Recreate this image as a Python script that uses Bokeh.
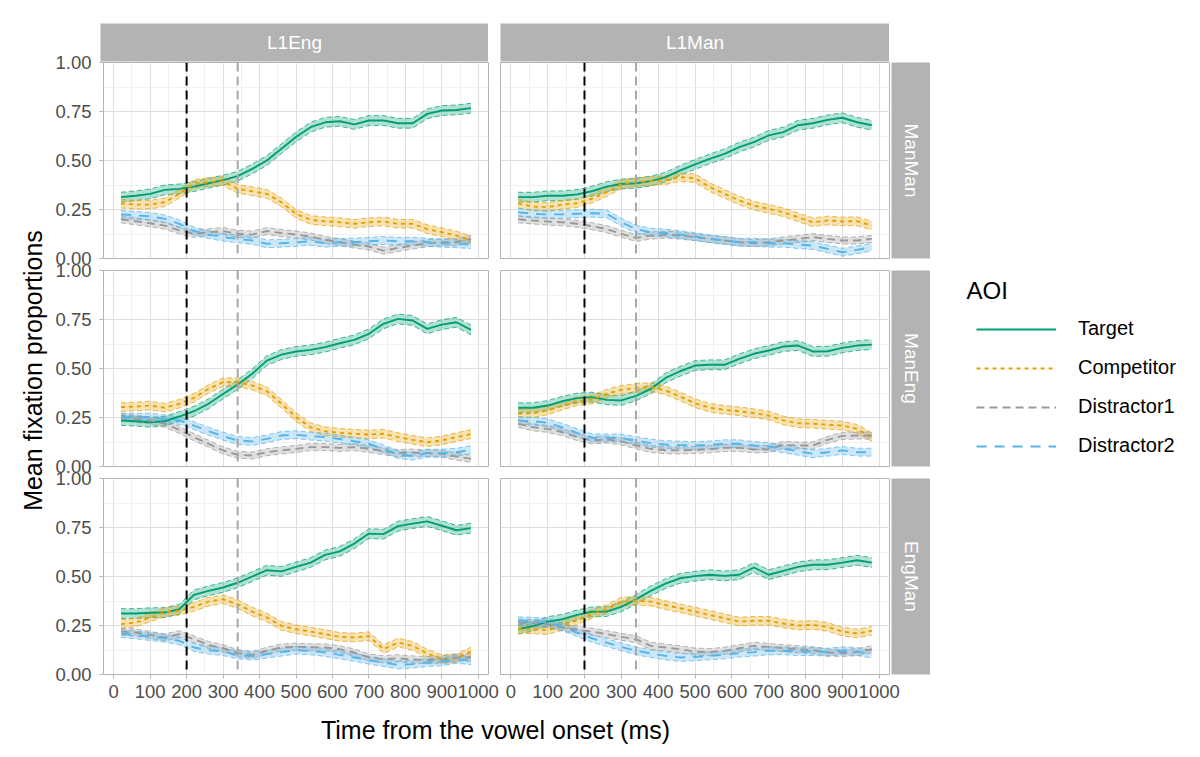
import math

from bokeh.core.properties import value
from bokeh.embed import file_html
from bokeh.layouts import column, row
from bokeh.models import FixedTicker, Legend, LegendItem, NumeralTickFormatter, Range1d, Spacer, Span
from bokeh.plotting import figure
from bokeh.resources import INLINE

# ---------------------------------------------------------------- data
time_ms = [20, 60, 100, 140, 180, 220, 260, 300, 340, 380, 420, 460, 500,
           540, 580, 620, 660, 700, 740, 780, 820, 860, 900, 940, 980]

eng_manman_target = [0.313, 0.32, 0.33, 0.35, 0.355, 0.367, 0.384, 0.40, 0.42, 0.457, 0.50, 0.56, 0.62,
                     0.67, 0.695, 0.70, 0.684, 0.704, 0.704, 0.69, 0.69, 0.738, 0.755, 0.758, 0.767]
eng_manman_comp = [0.28, 0.275, 0.275, 0.287, 0.33, 0.38, 0.39, 0.395, 0.355, 0.343, 0.33, 0.287, 0.228,
                   0.197, 0.19, 0.185, 0.177, 0.185, 0.189, 0.177, 0.177, 0.15, 0.134, 0.117, 0.092]
eng_manman_d1 = [0.20, 0.19, 0.18, 0.168, 0.143, 0.126, 0.134, 0.14, 0.126, 0.122, 0.14, 0.13, 0.122,
                 0.112, 0.095, 0.083, 0.071, 0.061, 0.04, 0.054, 0.066, 0.078, 0.083, 0.083, 0.10]
eng_manman_d2 = [0.225, 0.22, 0.215, 0.202, 0.177, 0.14, 0.122, 0.109, 0.10, 0.092, 0.075, 0.078, 0.082,
                 0.088, 0.078, 0.083, 0.083, 0.088, 0.092, 0.088, 0.088, 0.083, 0.078, 0.075, 0.071]

man_manman_target = [0.313, 0.313, 0.32, 0.32, 0.327, 0.343, 0.367, 0.38, 0.384, 0.395, 0.415, 0.45, 0.48,
                     0.508, 0.534, 0.568, 0.594, 0.628, 0.645, 0.68, 0.69, 0.707, 0.718, 0.695, 0.68]
man_manman_comp = [0.28, 0.265, 0.262, 0.275, 0.282, 0.305, 0.338, 0.378, 0.39, 0.395, 0.40, 0.415, 0.41,
                   0.364, 0.33, 0.296, 0.27, 0.253, 0.236, 0.21, 0.185, 0.194, 0.189, 0.19, 0.168]
man_manman_d1 = [0.20, 0.194, 0.189, 0.185, 0.177, 0.165, 0.15, 0.126, 0.105, 0.117, 0.122, 0.117, 0.109,
                 0.10, 0.092, 0.083, 0.078, 0.083, 0.092, 0.10, 0.109, 0.10, 0.092, 0.092, 0.10]
man_manman_d2 = [0.236, 0.228, 0.225, 0.225, 0.228, 0.231, 0.228, 0.185, 0.15, 0.134, 0.13, 0.122, 0.112,
                 0.10, 0.092, 0.083, 0.083, 0.078, 0.078, 0.071, 0.066, 0.049, 0.032, 0.044, 0.058]

eng_maneng_target = [0.235, 0.231, 0.226, 0.231, 0.255, 0.282, 0.32, 0.37, 0.418, 0.473, 0.54, 0.571, 0.587,
                     0.595, 0.609, 0.629, 0.646, 0.677, 0.728, 0.753, 0.745, 0.702, 0.724, 0.736, 0.697]
eng_maneng_comp = [0.303, 0.306, 0.311, 0.30, 0.32, 0.35, 0.396, 0.43, 0.43, 0.413, 0.384, 0.32, 0.252,
                   0.20, 0.18, 0.172, 0.167, 0.163, 0.167, 0.15, 0.136, 0.124, 0.133, 0.15, 0.165]
eng_maneng_d1 = [0.252, 0.243, 0.235, 0.218, 0.187, 0.15, 0.116, 0.082, 0.06, 0.056, 0.073, 0.082, 0.09,
                 0.099, 0.099, 0.095, 0.099, 0.09, 0.078, 0.068, 0.071, 0.068, 0.065, 0.051, 0.039]
eng_maneng_d2 = [0.252, 0.252, 0.252, 0.243, 0.235, 0.209, 0.18, 0.155, 0.133, 0.128, 0.141, 0.158, 0.162,
                 0.155, 0.15, 0.14, 0.129, 0.116, 0.09, 0.061, 0.053, 0.068, 0.068, 0.073, 0.085]

man_maneng_target = [0.30, 0.30, 0.311, 0.333, 0.349, 0.354, 0.34, 0.337, 0.36, 0.396, 0.452, 0.486, 0.515,
                     0.519, 0.519, 0.549, 0.575, 0.592, 0.612, 0.617, 0.587, 0.588, 0.605, 0.617, 0.622]
man_maneng_comp = [0.269, 0.272, 0.286, 0.311, 0.333, 0.342, 0.371, 0.391, 0.401, 0.405, 0.388, 0.357, 0.323,
                   0.30, 0.289, 0.282, 0.272, 0.26, 0.235, 0.221, 0.218, 0.213, 0.209, 0.192, 0.15]
man_maneng_d1 = [0.218, 0.20, 0.192, 0.175, 0.15, 0.133, 0.138, 0.128, 0.107, 0.09, 0.083, 0.082, 0.085,
                 0.088, 0.095, 0.095, 0.087, 0.09, 0.11, 0.107, 0.107, 0.136, 0.156, 0.158, 0.158]
man_maneng_d2 = [0.235, 0.231, 0.223, 0.20, 0.172, 0.146, 0.146, 0.145, 0.133, 0.119, 0.112, 0.109, 0.107,
                 0.11, 0.116, 0.116, 0.107, 0.102, 0.09, 0.078, 0.065, 0.073, 0.082, 0.073, 0.073]

eng_engman_target = [0.311, 0.311, 0.315, 0.316, 0.333, 0.406, 0.427, 0.444, 0.468, 0.50, 0.532, 0.526, 0.549,
                     0.571, 0.61, 0.628, 0.668, 0.719, 0.716, 0.757, 0.77, 0.781, 0.759, 0.736, 0.747]
eng_engman_comp = [0.257, 0.265, 0.291, 0.318, 0.325, 0.345, 0.372, 0.384, 0.359, 0.321, 0.291, 0.248, 0.231,
                   0.219, 0.206, 0.192, 0.189, 0.196, 0.129, 0.163, 0.146, 0.107, 0.078, 0.083, 0.117]
eng_engman_d1 = [0.219, 0.214, 0.202, 0.189, 0.206, 0.18, 0.15, 0.134, 0.109, 0.10, 0.121, 0.138, 0.141,
                 0.139, 0.138, 0.129, 0.112, 0.087, 0.078, 0.083, 0.077, 0.073, 0.077, 0.087, 0.087]
eng_engman_d2 = [0.209, 0.202, 0.194, 0.185, 0.172, 0.138, 0.124, 0.117, 0.10, 0.094, 0.104, 0.114, 0.124,
                 0.121, 0.112, 0.10, 0.087, 0.073, 0.061, 0.049, 0.053, 0.061, 0.065, 0.078, 0.07]

man_engman_target = [0.231, 0.247, 0.27, 0.282, 0.304, 0.32, 0.321, 0.345, 0.384, 0.427, 0.464, 0.491, 0.502,
                     0.509, 0.503, 0.509, 0.546, 0.509, 0.529, 0.549, 0.56, 0.56, 0.571, 0.583, 0.571]
man_engman_comp = [0.231, 0.231, 0.226, 0.248, 0.277, 0.308, 0.333, 0.372, 0.376, 0.372, 0.354, 0.338, 0.321,
                   0.304, 0.287, 0.27, 0.274, 0.274, 0.26, 0.25, 0.253, 0.243, 0.219, 0.209, 0.223]
man_engman_d1 = [0.265, 0.262, 0.257, 0.24, 0.228, 0.219, 0.206, 0.192, 0.18, 0.146, 0.138, 0.129, 0.117,
                 0.114, 0.121, 0.134, 0.146, 0.141, 0.134, 0.129, 0.124, 0.112, 0.11, 0.114, 0.129]
man_engman_d2 = [0.274, 0.272, 0.265, 0.243, 0.214, 0.185, 0.163, 0.141, 0.121, 0.107, 0.095, 0.087, 0.09,
                 0.095, 0.10, 0.109, 0.114, 0.121, 0.121, 0.117, 0.117, 0.114, 0.121, 0.117, 0.104]

# standard-error half widths of the ribbons, one per AOI
se_halfwidth = [0.025, 0.022, 0.018, 0.02]

aoi_names = ["Target", "Competitor", "Distractor1", "Distractor2"]
l1_groups = ["L1Eng", "L1Man"]
conditions = ["ManMan", "ManEng", "EngMan"]

# analysis window markers (ms)
window_start = 200
window_end = 340

x_ticks = [0, 100, 200, 300, 400, 500, 600, 700, 800, 900, 1000]
x_minor = [50, 150, 250, 350, 450, 550, 650, 750, 850, 950]
y_ticks = [0.0, 0.25, 0.5, 0.75, 1.0]
y_minor = [0.125, 0.375, 0.625, 0.875]

curves = {
    ("L1Eng", "ManMan"): [eng_manman_target, eng_manman_comp, eng_manman_d1, eng_manman_d2],
    ("L1Man", "ManMan"): [man_manman_target, man_manman_comp, man_manman_d1, man_manman_d2],
    ("L1Eng", "ManEng"): [eng_maneng_target, eng_maneng_comp, eng_maneng_d1, eng_maneng_d2],
    ("L1Man", "ManEng"): [man_maneng_target, man_maneng_comp, man_maneng_d1, man_maneng_d2],
    ("L1Eng", "EngMan"): [eng_engman_target, eng_engman_comp, eng_engman_d1, eng_engman_d2],
    ("L1Man", "EngMan"): [man_engman_target, man_engman_comp, man_engman_d1, man_engman_d2],
}

# ---------------------------------------------------------------- style
FONT = "Liberation Sans"
aoi_colors = ["#009E73", "#E69F00", "#999999", "#56B4E9"]
aoi_dashes = ["solid", "4 4", "8 5", "10 8"]
STRIP = "#B3B3B3"
BORDER = "#B3B3B3"
GRID_MAJOR = "#DEDEDE"
GRID_MINOR = "#EEEEEE"
TICK_TEXT = "#4D4D4D"

FRAME_H = 196
GAP = 12


def blank(width, height, **kw):
    f = figure(width=width, height=height, output_backend="svg", toolbar_location=None,
               x_axis_location=None, y_axis_location=None,
               border_fill_alpha=0, **kw)
    f.xgrid.visible = False
    f.ygrid.visible = False
    return f


def make_canvas(width, height):
    return blank(width, height, x_range=Range1d(0, width), y_range=Range1d(0, height),
                 min_border_left=0, min_border_right=0, min_border_top=0, min_border_bottom=0,
                 background_fill_alpha=0, outline_line_color=None)


def make_strip(label, width, height, left, top, bottom, angle):
    s = blank(width, height, x_range=Range1d(0, 1), y_range=Range1d(0, 1),
              min_border_left=left, min_border_right=0, min_border_top=top, min_border_bottom=bottom,
              background_fill_color=STRIP, outline_line_color=None)
    s.text(x=[0.5], y=[0.5], text=[label], angle=angle, text_color="white",
           text_font=value(FONT), text_font_size="19px",
           text_align="center", text_baseline="middle")
    return s


def make_panel(l1, cond, col_idx, row_idx):
    last_row = row_idx == len(conditions) - 1
    left = 48 if col_idx == 0 else GAP
    bottom = 34 if last_row else GAP
    frame_w = 388 if col_idx == 0 else 389
    p = figure(width=left + frame_w + GAP, height=GAP + FRAME_H + bottom,
               x_range=Range1d(-28, 1028), y_range=Range1d(0, 1),
               x_axis_location="below" if last_row else None,
               y_axis_location="left" if col_idx == 0 else None,
               output_backend="svg", toolbar_location=None,
               min_border_left=left, min_border_right=GAP,
               min_border_top=GAP, min_border_bottom=bottom,
               background_fill_color="white", border_fill_alpha=0,
               outline_line_color=BORDER, outline_line_width=1)

    p.xgrid.ticker = FixedTicker(ticks=x_ticks, minor_ticks=x_minor)
    p.ygrid.ticker = FixedTicker(ticks=y_ticks, minor_ticks=y_minor)
    p.grid.grid_line_color = GRID_MAJOR
    p.grid.grid_line_width = 1
    p.grid.minor_grid_line_color = GRID_MINOR
    p.grid.minor_grid_line_width = 0.8

    for axes, ticks, standoff in ((p.xaxis, x_ticks, 6), (p.yaxis, y_ticks, 8)):
        for ax in axes:
            ax.ticker = FixedTicker(ticks=ticks)
            ax.axis_line_color = None
            ax.major_tick_line_color = BORDER
            ax.major_tick_out = 4
            ax.major_tick_in = 0
            ax.minor_tick_line_color = None
            ax.major_label_text_font = FONT
            ax.major_label_text_font_size = "18.5px"
            ax.major_label_text_color = TICK_TEXT
            ax.major_label_standoff = standoff
    for ax in p.yaxis:
        ax.formatter = NumeralTickFormatter(format="0.00")

    series = curves[(l1, cond)]
    for ys, color, se in zip(series, aoi_colors, se_halfwidth):
        lo = [v - se for v in ys]
        hi = [v + se for v in ys]
        p.varea(x=time_ms, y1=lo, y2=hi, fill_color=color, fill_alpha=0.3)
        p.line(time_ms, lo, line_color=color, line_width=0.8, line_dash="5 3", line_alpha=0.9)
        p.line(time_ms, hi, line_color=color, line_width=0.8, line_dash="5 3", line_alpha=0.9)
    for ys, color, dash in zip(series, aoi_colors, aoi_dashes):
        p.line(time_ms, ys, line_color=color, line_width=1.9, line_dash=dash)

    p.add_layout(Span(location=window_start, dimension="height", line_color="black",
                      line_width=2, line_dash="9 5"))
    p.add_layout(Span(location=window_end, dimension="height", line_color="#A6A6A6",
                      line_width=2, line_dash="9 5"))
    if col_idx == 1:
        p.margin = (0, 0, 0, -GAP)
    return p


# ---------------------------------------------------------------- facet grid
strip_row = row(
    make_strip(l1_groups[0], 48 + 388, 62, 48, 23, 1, 0),
    make_strip(l1_groups[1], GAP + 389, 62, GAP, 23, 1, 0),
    Spacer(width=41, height=62),
)

panel_rows = []
for r, cond in enumerate(conditions):
    pa = make_panel(l1_groups[0], cond, 0, r)
    pb = make_panel(l1_groups[1], cond, 1, r)
    h = pa.height
    side = make_strip(cond, 41, h, 2, GAP, h - GAP - FRAME_H, -math.pi / 2)
    side.margin = (0, 0, 0, -GAP)
    panel_rows.append(row(pa, pb, side, margin=(-GAP, 0, 0, 0)))

x_title = make_canvas(878, 49)
x_title.text(x=[443], y=[28], text=["Time from the vowel onset (ms)"], text_font=value(FONT),
             text_font_size="25px", text_color="black", text_align="center",
             text_baseline="alphabetic")

grid_col = column(strip_row, *panel_rows, x_title)

y_title = make_canvas(52, 757)
y_title.text(x=[32], y=[387], text=["Mean fixation proportions"], angle=math.pi / 2,
             text_font=value(FONT), text_font_size="25px", text_color="black",
             text_align="center", text_baseline="middle")

# ---------------------------------------------------------------- legend
legend_panel = make_canvas(270, 757)
legend_panel.text(x=[36], y=[467], text=["AOI"], text_font=value(FONT), text_font_size="24px",
                  text_color="black", text_align="left", text_baseline="alphabetic")
items = []
for name, color, dash in zip(aoi_names, aoi_colors, aoi_dashes):
    r = legend_panel.line(x=[float("nan")], y=[float("nan")], line_color=color,
                          line_width=2, line_dash=dash)
    items.append(LegendItem(label=name, renderers=[r]))
legend = Legend(items=items, location=(46, 300), glyph_width=80, glyph_height=20,
                label_height=20, label_standoff=22, spacing=16, padding=0, margin=0,
                border_line_color=None, background_fill_alpha=0,
                label_text_font=FONT, label_text_font_size="20px", label_text_color="black")
legend_panel.add_layout(legend)

page = row(y_title, grid_col, legend_panel)

with open("out.html", "w") as fh:
    fh.write(file_html(page, INLINE))
